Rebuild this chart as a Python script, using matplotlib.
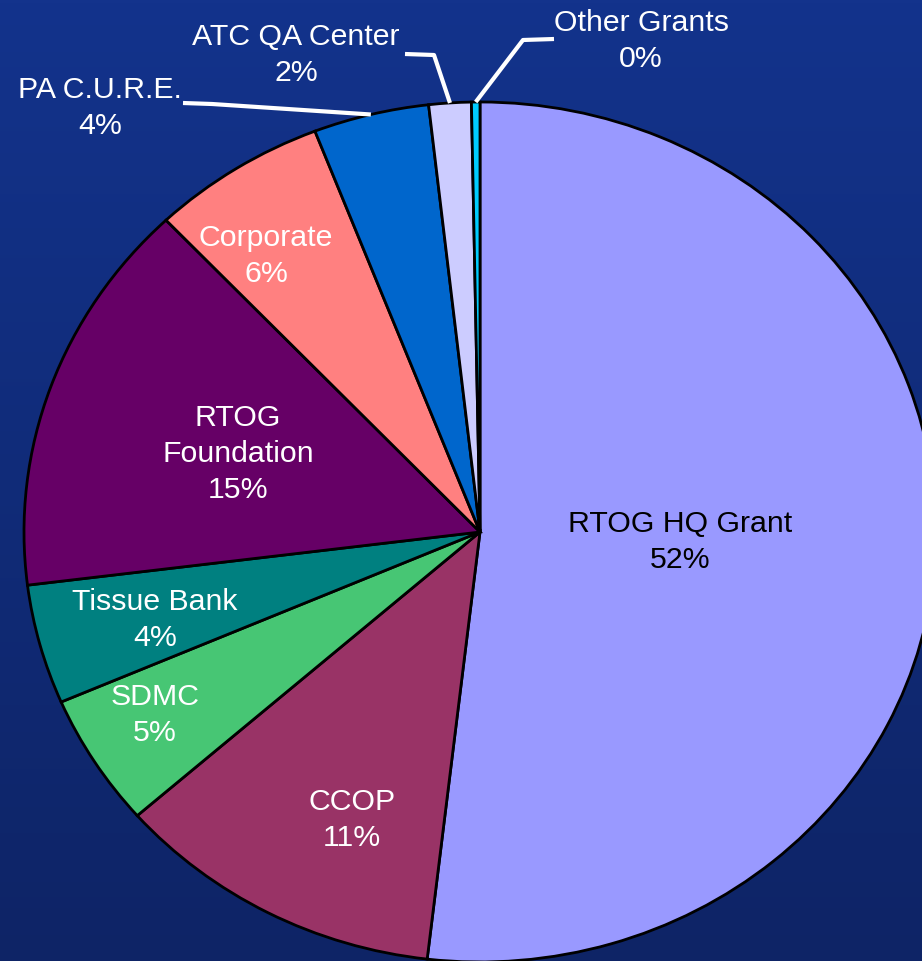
import numpy as np
import matplotlib.pyplot as plt

plt.rcParams['font.family'] = ['Liberation Sans', 'DejaVu Sans']

# slice data, clockwise from 12 o'clock
names = ['RTOG HQ Grant', 'CCOP', 'SDMC', 'Tissue Bank', 'RTOG\nFoundation',
         'Corporate', 'PA C.U.R.E.', 'ATC QA Center', 'Other Grants']
shares = [51.9, 11.7, 5.0, 4.5, 14.9, 6.2, 4.1, 1.5, 0.3]
pct_labels = ['52%', '11%', '5%', '4%', '15%', '6%', '4%', '2%', '0%']
colors = ['#9999FF', '#993366', '#47C674', '#008080', '#660066',
          '#FF8080', '#0066CC', '#CCCCFF', '#00CCFF']
text_colors = ['black'] + ['white'] * 8

W, H = 922, 962
# pie geometry in pixels (slightly squashed ellipse)
cx, cy, rx, ry = 480, 533, 456, 430

def px(x, y):
    return (x - cx) / rx, (cy - y) / ry

fig = plt.figure(figsize=(W / 100, H / 100), dpi=100)

# background gradient
bg = fig.add_axes([0, 0, 1, 1], zorder=0)
grad = np.linspace(0, 1, 256)[:, None]
top = np.array([19, 51, 140]) / 255
bot = np.array([14, 36, 102]) / 255
img = top[None, None, :] * (1 - grad[:, :, None]) + bot[None, None, :] * grad[:, :, None]
bg.imshow(img, aspect='auto', extent=[0, 1, 0, 1])
bg.axis('off')

ax = fig.add_axes([0, 0, 1, 1], zorder=1)
ax.patch.set_alpha(0)
wedges, _ = ax.pie(shares, colors=colors, startangle=90, counterclock=False,
                   wedgeprops=dict(edgecolor='black', linewidth=2))
ax.set_aspect('auto')
ax.set_xlim(-cx / rx, (W - cx) / rx)
ax.set_ylim((cy - H) / ry, cy / ry)
ax.axis('off')

# label centres (pixel positions)
label_pos = [(680, 542), (352, 820), (155, 715), (155, 620), (238, 454),
             (266, 256), (100, 108), (296, 55), (641, 41)]
# elbow points for labels drawn outside the pie
elbows = {6: [(183, 104), (212, 105)],
          7: [(405, 55), (434, 56)],
          8: [(554, 40), (523, 41)]}

for i, (name, pct) in enumerate(zip(names, pct_labels)):
    x, y = px(*label_pos[i])
    ax.text(x, y, name + '\n' + pct, ha='center', va='center', fontsize=21.8,
            color=text_colors[i], linespacing=1.36)
    if i in elbows:
        w = wedges[i]
        mid = np.deg2rad((w.theta1 + w.theta2) / 2)
        pts = [px(*p) for p in elbows[i]] + [(np.cos(mid), np.sin(mid))]
        xs, ys = zip(*pts)
        ax.plot(xs, ys, color='white', lw=3, solid_capstyle='butt', zorder=5)

fig.savefig('out.png', dpi=100)
